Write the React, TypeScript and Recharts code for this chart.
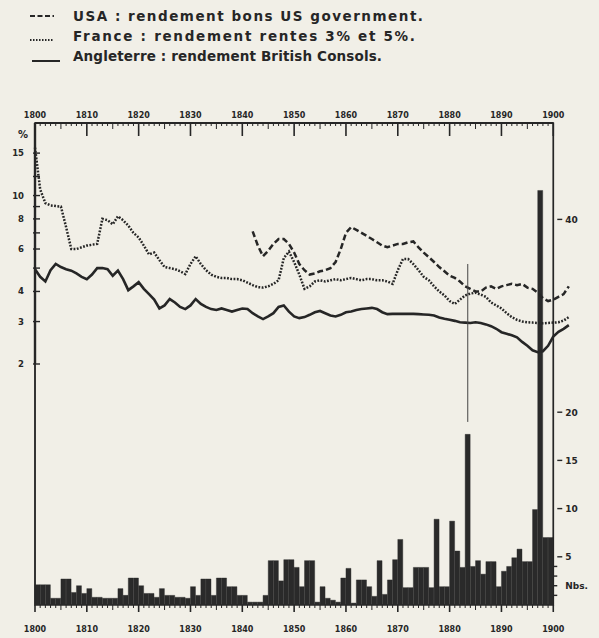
import React from "react";
import { ComposedChart, Bar, Line, XAxis, YAxis, ReferenceLine, ReferenceArea } from "recharts";

// page geometry
const WIDTH = 599;
const HEIGHT = 638;
const LEFT_AXIS_W = 35;
const RIGHT_AXIS_W = 25;
const PLOT_LEFT = LEFT_AXIS_W;
const PLOT_RIGHT = WIDTH - RIGHT_AXIS_W;
const PLOT_TOP = 123;
const PLOT_BOTTOM = 605;
const X_MIN = 1800;
const X_MAX = 1904;
const PX_PER_YEAR = (PLOT_RIGHT - PLOT_LEFT) / (X_MAX - X_MIN);
const AXIS_RIGHT_X = PLOT_LEFT + (1900 - X_MIN) * PX_PER_YEAR;

const INK = "#262626";
const PAPER = "#f1efe7";
const FONT = "'DejaVu Sans', sans-serif";

// years 1800..1903 (the yield lines run a little past the 1900 frame)
const years = Array.from({ length: 104 }, (_, i) => 1800 + i);
const axisYears = years.filter((y) => y <= 1900);

// Angleterre : British Consols yield (%)
const england = [
  4.95, 4.6, 4.4, 4.9, 5.2, 5.05, 4.95, 4.88, 4.75, 4.6,
  4.5, 4.7, 5.0, 5.0, 4.95, 4.65, 4.88, 4.5, 4.05, 4.2,
  4.37, 4.1, 3.9, 3.7, 3.4, 3.5, 3.72, 3.6, 3.45, 3.38,
  3.5, 3.72, 3.55, 3.45, 3.38, 3.35, 3.4, 3.35, 3.3, 3.35,
  3.4, 3.38, 3.25, 3.15, 3.07, 3.15, 3.25, 3.45, 3.5, 3.3,
  3.15, 3.1, 3.13, 3.2, 3.28, 3.32, 3.25, 3.18, 3.15, 3.2,
  3.28, 3.3, 3.35, 3.38, 3.4, 3.42, 3.38, 3.28, 3.22, 3.23,
  3.23, 3.23, 3.23, 3.23, 3.22, 3.21, 3.2, 3.18, 3.12, 3.08,
  3.05, 3.02, 2.98, 2.97, 2.96, 2.98, 2.96, 2.92, 2.87, 2.8,
  2.71, 2.67, 2.63, 2.58, 2.47, 2.38, 2.28, 2.24, 2.26, 2.38,
  2.6, 2.72, 2.8, 2.9,
];

// France : rentes 3% et 5% yield (%)
const france = [
  15.8, 10.6, 9.3, 9.1, 9.05, 9.0, 7.4, 6.0, 6.0, 6.1,
  6.2, 6.25, 6.3, 8.0, 7.9, 7.6, 8.2, 7.9, 7.5, 7.0,
  6.7, 6.2, 5.7, 5.8, 5.4, 5.05, 5.0, 4.95, 4.85, 4.72,
  5.2, 5.6, 5.2, 4.9, 4.7, 4.6, 4.55, 4.55, 4.5, 4.5,
  4.45, 4.35, 4.25, 4.17, 4.15, 4.2, 4.3, 4.45, 5.5, 5.85,
  5.3, 4.7, 4.1, 4.2, 4.4, 4.45, 4.4, 4.45, 4.5, 4.45,
  4.5, 4.55, 4.5, 4.45, 4.5, 4.5, 4.45, 4.45, 4.4, 4.3,
  4.9, 5.45, 5.45, 5.2, 4.9, 4.6, 4.45, 4.2, 4.0, 3.85,
  3.65, 3.55, 3.7, 3.85, 3.92, 3.95, 3.88, 3.8, 3.6, 3.5,
  3.4, 3.25, 3.13, 3.05, 3.0, 2.98, 2.97, 2.96, 2.95, 2.96,
  2.97, 2.98, 3.03, 3.13,
];

// USA : US government bonds yield (%), from 1842
const USA_FIRST_YEAR = 1842;
const usa = [
  7.1, 6.2, 5.6, 5.9, 6.3, 6.6, 6.6, 6.3,
  5.8, 5.2, 4.9, 4.7, 4.75, 4.85, 4.9, 5.0, 5.3, 6.0,
  7.0, 7.4, 7.2, 7.0, 6.8, 6.6, 6.4, 6.2, 6.1, 6.2,
  6.3, 6.3, 6.4, 6.45, 6.1, 5.8, 5.55, 5.3, 5.05, 4.85,
  4.65, 4.55, 4.4, 4.2, 4.1, 4.0, 4.0, 4.15, 4.2, 4.1,
  4.2, 4.25, 4.3, 4.25, 4.3, 4.15, 4.1, 3.95, 3.75, 3.65,
  3.7, 3.8, 3.9, 4.2,
];

// yearly counts (Nbs.), 1800..1899
const counts = [
  2.1, 2.1, 2.1, 0.7, 0.7, 2.7, 2.7, 1.3, 2.0, 1.2,
  1.7, 0.8, 0.8, 0.7, 0.7, 0.7, 1.7, 1.0, 2.8, 2.8,
  2.0, 1.2, 1.2, 0.8, 1.7, 1.0, 1.0, 0.8, 0.8, 0.7,
  1.9, 1.0, 2.7, 2.7, 1.0, 2.8, 2.8, 1.9, 1.9, 1.0,
  1.0, 0.3, 0.3, 0.3, 1.0, 4.6, 4.6, 2.5, 4.7, 4.7,
  3.9, 1.9, 4.6, 4.6, 0.3, 1.9, 0.7, 0.5, 0.3, 2.8,
  3.8, 0.2, 2.6, 2.6, 1.9, 0.9, 4.6, 1.1, 2.6, 4.7,
  6.8, 1.8, 1.8, 3.9, 3.9, 3.9, 1.8, 8.9, 1.9, 1.9,
  8.7, 5.6, 3.9, 17.7, 4.0, 4.6, 3.2, 4.5, 4.5, 1.9,
  3.5, 4.0, 4.9, 5.8, 4.5, 4.5, 9.9, 43, 7.0, 7.0,
];

const leftTicks = [2, 3, 4, 5, 6, 7, 8, 9, 10, 12, 15];
const leftLabels = [2, 3, 4, 6, 8, 10, 15];
const rightTicks = [1, 2, 3, 4, 5, 10, 15, 20, 40];
const rightLabels: Record<number, string> = { 2: "Nbs.", 5: "5", 10: "10", 15: "15", 20: "20", 40: "40" };

const legendItems = [
  { key: "usa", label: "USA : rendement bons US government." },
  { key: "france", label: "France : rendement rentes 3% et 5%." },
  { key: "england", label: "Angleterre : rendement British Consols." },
];

const SERIES_STYLE: Record<string, { dash?: string; width: number }> = {
  usa: { dash: "6 3", width: 2.5 },
  france: { dash: "1.8 1.5", width: 2.5 },
  england: { width: 2.6 },
};

const lineRows = years.map((year, i) => ({
  year,
  england: england[i],
  france: france[i],
  usa: year >= USA_FIRST_YEAR ? usa[year - USA_FIRST_YEAR] : null,
}));

const barRows = counts.map((count, i) => ({ mid: years[i] + 0.5, count }));

const TopTick = (props: any) => {
  const { x, payload } = props;
  const yr = payload.value as number;
  const decade = yr % 10 === 0;
  const len = decade ? 13 : yr % 5 === 0 ? 6 : 3;
  return (
    <g>
      <line x1={x} x2={x} y1={PLOT_TOP} y2={PLOT_TOP + len} stroke={INK} strokeWidth={decade ? 1.6 : 1} />
      {decade && (
        <text x={x} y={118} textAnchor="middle" fontSize={8} fontWeight="bold" fill={INK} fontFamily={FONT}>
          {yr}
        </text>
      )}
    </g>
  );
};

const BottomTick = (props: any) => {
  const { x, payload } = props;
  const yr = payload.value as number;
  const decade = yr % 10 === 0;
  const len = decade ? 7 : yr % 5 === 0 ? 5 : 3;
  return (
    <g>
      <line x1={x} x2={x} y1={PLOT_BOTTOM} y2={PLOT_BOTTOM + len} stroke={INK} strokeWidth={decade ? 1.6 : 1} />
      {decade && (
        <text x={x} y={632} textAnchor="middle" fontSize={8} fontWeight="bold" fill={INK} fontFamily={FONT}>
          {yr}
        </text>
      )}
    </g>
  );
};

const LeftTick = (props: any) => {
  const { y, payload } = props;
  const v = payload.value as number;
  return (
    <g>
      <line x1={PLOT_LEFT - 2} x2={PLOT_LEFT + 5} y1={y} y2={y} stroke={INK} strokeWidth={1.4} />
      {leftLabels.includes(v) && (
        <text x={24} y={y + 3} textAnchor="end" fontSize={8.5} fontWeight="bold" fill={INK} fontFamily={FONT}>
          {v}
        </text>
      )}
    </g>
  );
};

// the count axis sits on the 1900 frame line, not at the plot edge
const RightTick = (props: any) => {
  const { y, payload } = props;
  const v = payload.value as number;
  const label = rightLabels[v];
  const major = v % 5 === 0;
  return (
    <g>
      <line x1={AXIS_RIGHT_X + (major ? 4 : 0)} x2={AXIS_RIGHT_X + (major ? 9 : 4)} y1={y} y2={y} stroke={INK} strokeWidth={1.4} />
      {label && (
        <text x={AXIS_RIGHT_X + 12} y={y + 3.5} fontSize={9} fontWeight="bold" fill={INK} fontFamily={FONT}>
          {label}
        </text>
      )}
    </g>
  );
};

function LegendBlock() {
  const textProps = { fontSize: 13.5, fontWeight: "bold" as const, fill: INK, fontFamily: FONT, lengthAdjust: "spacing" as const };
  return (
    <svg width={WIDTH} height={70} style={{ position: "absolute", left: 0, top: 0 }}>
      <line x1={30} x2={54} y1={16} y2={16} stroke={INK} strokeWidth={2} strokeDasharray="5 2.5" />
      <text x={73} y={21} textLength={350} {...textProps}>
        {legendItems[0].label}
      </text>
      <line x1={30} x2={54} y1={40} y2={40} stroke={INK} strokeWidth={2} strokeDasharray="1.5 1.5" />
      <text x={73} y={41} textLength={342} {...textProps}>
        {legendItems[1].label}
      </text>
      <line x1={32} x2={60} y1={61} y2={61} stroke={INK} strokeWidth={2} />
      <text x={73} y={61} textLength={309} {...textProps}>
        {legendItems[2].label}
      </text>
    </svg>
  );
}

export default function App() {
  return (
    <div style={{ position: "fixed", left: 0, top: 0, width: WIDTH, height: HEIGHT, background: PAPER, overflow: "hidden" }}>
      <ComposedChart
        width={WIDTH}
        height={HEIGHT}
        data={barRows}
        margin={{ top: 0, right: 0, bottom: 0, left: 0 }}
        barCategoryGap={0}
        barGap={0}
      >
        <XAxis
          xAxisId="top"
          orientation="top"
          dataKey="year"
          type="number"
          domain={[X_MIN, X_MAX]}
          ticks={axisYears}
          interval={0}
          height={PLOT_TOP}
          axisLine={false}
          tickLine={false}
          tick={<TopTick />}
        />
        <XAxis
          xAxisId="bottom"
          dataKey="mid"
          type="number"
          domain={[X_MIN, X_MAX]}
          ticks={axisYears}
          interval={0}
          height={HEIGHT - PLOT_BOTTOM}
          axisLine={false}
          tickLine={false}
          tick={<BottomTick />}
        />
        <YAxis
          yAxisId="left"
          scale="log"
          domain={[0.2, 20]}
          allowDataOverflow
          ticks={leftTicks}
          interval={0}
          width={LEFT_AXIS_W}
          axisLine={{ stroke: INK, strokeWidth: 1 }}
          tickLine={false}
          tick={<LeftTick />}
        />
        <YAxis
          yAxisId="right"
          orientation="right"
          domain={[0, 50]}
          allowDataOverflow
          ticks={rightTicks}
          interval={0}
          width={RIGHT_AXIS_W}
          axisLine={false}
          tickLine={false}
          tick={<RightTick />}
        />

        {/* frame 1800-1900 */}
        <ReferenceArea
          xAxisId="bottom"
          yAxisId="right"
          x1={1800}
          x2={1900}
          y1={0}
          y2={50}
          ifOverflow="visible"
          fill="none"
          fillOpacity={0}
          stroke={INK}
          strokeWidth={1.7}
        />

        <Bar
          dataKey="count"
          xAxisId="bottom"
          yAxisId="right"
          fill="#2a2a2a"
          stroke="#2a2a2a"
          strokeWidth={0.4}
          isAnimationActive={false}
        />

        {(["england", "france", "usa"] as const).map((key) => (
          <Line
            key={key}
            data={lineRows}
            dataKey={key}
            xAxisId="top"
            yAxisId="left"
            type="linear"
            stroke={INK}
            strokeWidth={SERIES_STYLE[key].width}
            strokeDasharray={SERIES_STYLE[key].dash}
            dot={false}
            activeDot={false}
            connectNulls={false}
            isAnimationActive={false}
          />
        ))}

        {/* thicker upper part of the yield axis, 2% to 20% */}
        <ReferenceLine xAxisId="top" yAxisId="left" ifOverflow="visible" stroke={INK} strokeWidth={2.4}
          segment={[{ x: 1800, y: 2 }, { x: 1800, y: 20 }]} />
        {/* top edge a little heavier */}
        <ReferenceLine xAxisId="top" yAxisId="left" ifOverflow="visible" stroke={INK} strokeWidth={2.2}
          segment={[{ x: 1800, y: 20 }, { x: 1900, y: 20 }]} />
        {/* thin marker line above the 1883 spike */}
        <ReferenceLine xAxisId="top" yAxisId="left" ifOverflow="visible" stroke="#444" strokeWidth={1}
          segment={[{ x: 1883.5, y: 5.2 }, { x: 1883.5, y: 1.15 }]} />
      </ComposedChart>

      <svg width={40} height={20} style={{ position: "absolute", left: 8, top: 126 }}>
        <text x={10} y={12} fontSize={10} fontWeight="bold" fill={INK} fontFamily={FONT}>%</text>
      </svg>
      <LegendBlock />
    </div>
  );
}
